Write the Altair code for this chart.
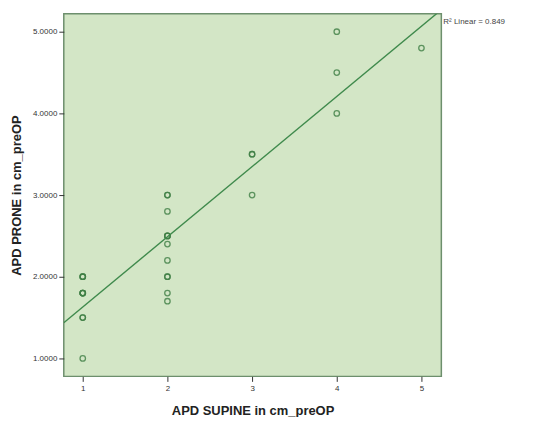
import altair as alt
import pandas as pd

# APD supine (x) and prone (y) values, with repeated observations listed
supine = [1, 1, 1, 1, 1, 1, 1, 1, 1, 1,
          2, 2, 2, 2, 2, 2, 2, 2, 2, 2, 2, 2,
          3, 3, 3,
          4, 4, 4,
          5]
prone = [2.0, 2.0, 2.0, 1.8, 1.8, 1.8, 1.8, 1.5, 1.5, 1.0,
         3.0, 3.0, 2.8, 2.5, 2.5, 2.5, 2.4, 2.2, 2.0, 2.0, 1.8, 1.7,
         3.5, 3.5, 3.0,
         5.0, 4.5, 4.0,
         4.8]
x_ticks = [1, 2, 3, 4, 5]
y_ticks = [1, 2, 3, 4, 5]
r2_label = ["R² Linear = 0.849"]

df = pd.DataFrame({"x": supine, "y": prone})

X_DOM = [0.776, 5.235]
Y_DOM = [0.78, 5.22]
W, H = 379, 364

xs = alt.Scale(domain=X_DOM, nice=False, zero=False)
ys = alt.Scale(domain=Y_DOM, nice=False, zero=False)

x_axis = alt.Axis(values=x_ticks, format="d", title="APD SUPINE in cm_preOP",
                  grid=False, domain=False, tickSize=5, tickColor="#333333",
                  labelFontSize=8, labelColor="#333333", labelPadding=3,
                  titleFontSize=13, titleFontWeight="bold", titleColor="#222222",
                  titlePadding=12)
y_axis = alt.Axis(values=y_ticks, format=".4f", title="APD PRONE in cm_preOP",
                  grid=False, domain=False, tickSize=5, tickColor="#333333",
                  labelFontSize=8, labelColor="#333333", labelPadding=2,
                  titleFontSize=13, titleFontWeight="bold", titleColor="#222222",
                  titlePadding=9)

base = alt.Chart(df)

points = base.mark_point(shape="circle", filled=False, size=30, strokeWidth=1.3,
                         color="#3f7f45", opacity=0.8).encode(
    x=alt.X("x:Q", scale=xs, axis=x_axis),
    y=alt.Y("y:Q", scale=ys, axis=y_axis),
)

line = base.transform_regression("x", "y", extent=X_DOM).mark_line(
    color="#3f8a4c", strokeWidth=1.4, clip=True).encode(
    x=alt.X("x:Q", scale=xs),
    y=alt.Y("y:Q", scale=ys),
)

label = alt.Chart(pd.DataFrame({"t": r2_label})).mark_text(
    align="left", baseline="middle", fontSize=8, color="#444444",
    font="Liberation Sans").encode(
    text="t:N", x=alt.value(W + 2), y=alt.value(8))

chart = alt.layer(points, line, label).properties(
    width=W, height=H,
    autosize=alt.AutoSizeParams(type="none"),
    padding={"left": 56, "top": 5, "right": 90, "bottom": 40},
).configure(
    font="Liberation Sans", background="white"
).configure_view(
    fill="#d3e6c6", stroke="#6d8f6d", strokeWidth=1.5
)

chart.save("out.html", embed_options={"renderer": "svg", "actions": False})
